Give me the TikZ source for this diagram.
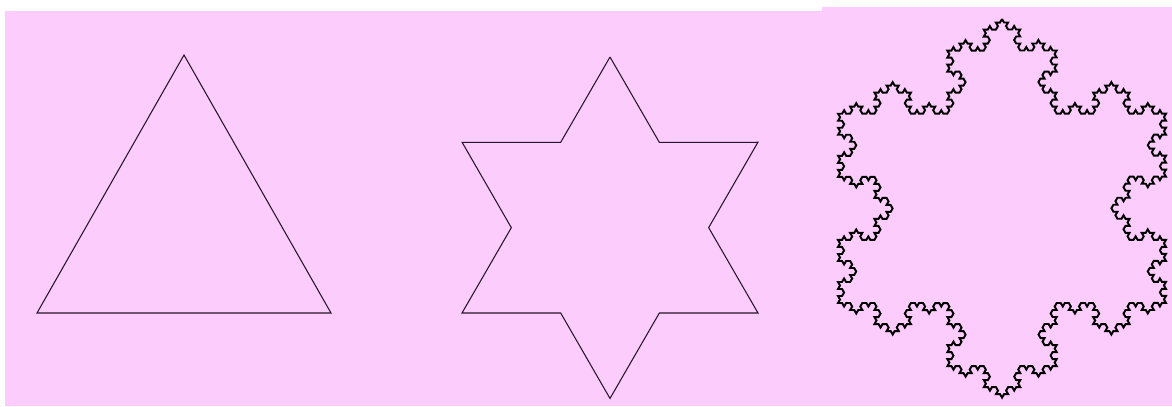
\documentclass[tikz,border=0pt]{standalone}
\usepackage{xcolor}
\usepackage{tikz}
\usetikzlibrary{decorations.fractals}
\definecolor{pinkbg}{RGB}{252,204,252}
\definecolor{darkline}{RGB}{40,20,40}
\tikzset{
    panel/.style={fill=pinkbg, draw=none},
    outline/.style={draw=darkline, line width=0.6pt, line join=miter},
    flake/.style={draw=black, line width=1.1pt, line join=miter},
    koch/.style={decoration={Koch snowflake}}
}

\begin{document}
\begin{tikzpicture}[x=0.02cm, y=-0.02cm]
    \fill[white] (0,0) rectangle (1172,406);
    \useasboundingbox (0,0) rectangle (1172,406);

    % backgrounds
    \fill[panel] (5,11) rectangle (822,406);
    \fill[panel] (822,7) rectangle (1172,406);

    % step 0: triangle
    \coordinate (t0a) at (184,55);
    \coordinate (t0r) at (331,313);
    \coordinate (t0l) at (37,313);
    \draw[outline] (t0a) -- (t0r) -- (t0l) -- cycle;

    % step 1: star
    \coordinate (t1a) at (610,57);
    \coordinate (t1r) at (758,313);
    \coordinate (t1l) at (462,313);
    \draw[outline, koch] decorate{ (t1a) -- (t1r) -- (t1l) -- cycle };

    % step 4: snowflake
    \coordinate (t4a) at (1002,19);
    \coordinate (t4r) at (1166,303);
    \coordinate (t4l) at (838,303);
    \draw[flake, koch] decorate{ decorate{ decorate{ decorate{ (t4a) -- (t4r) -- (t4l) -- cycle }}}};
\end{tikzpicture}
\end{document}
